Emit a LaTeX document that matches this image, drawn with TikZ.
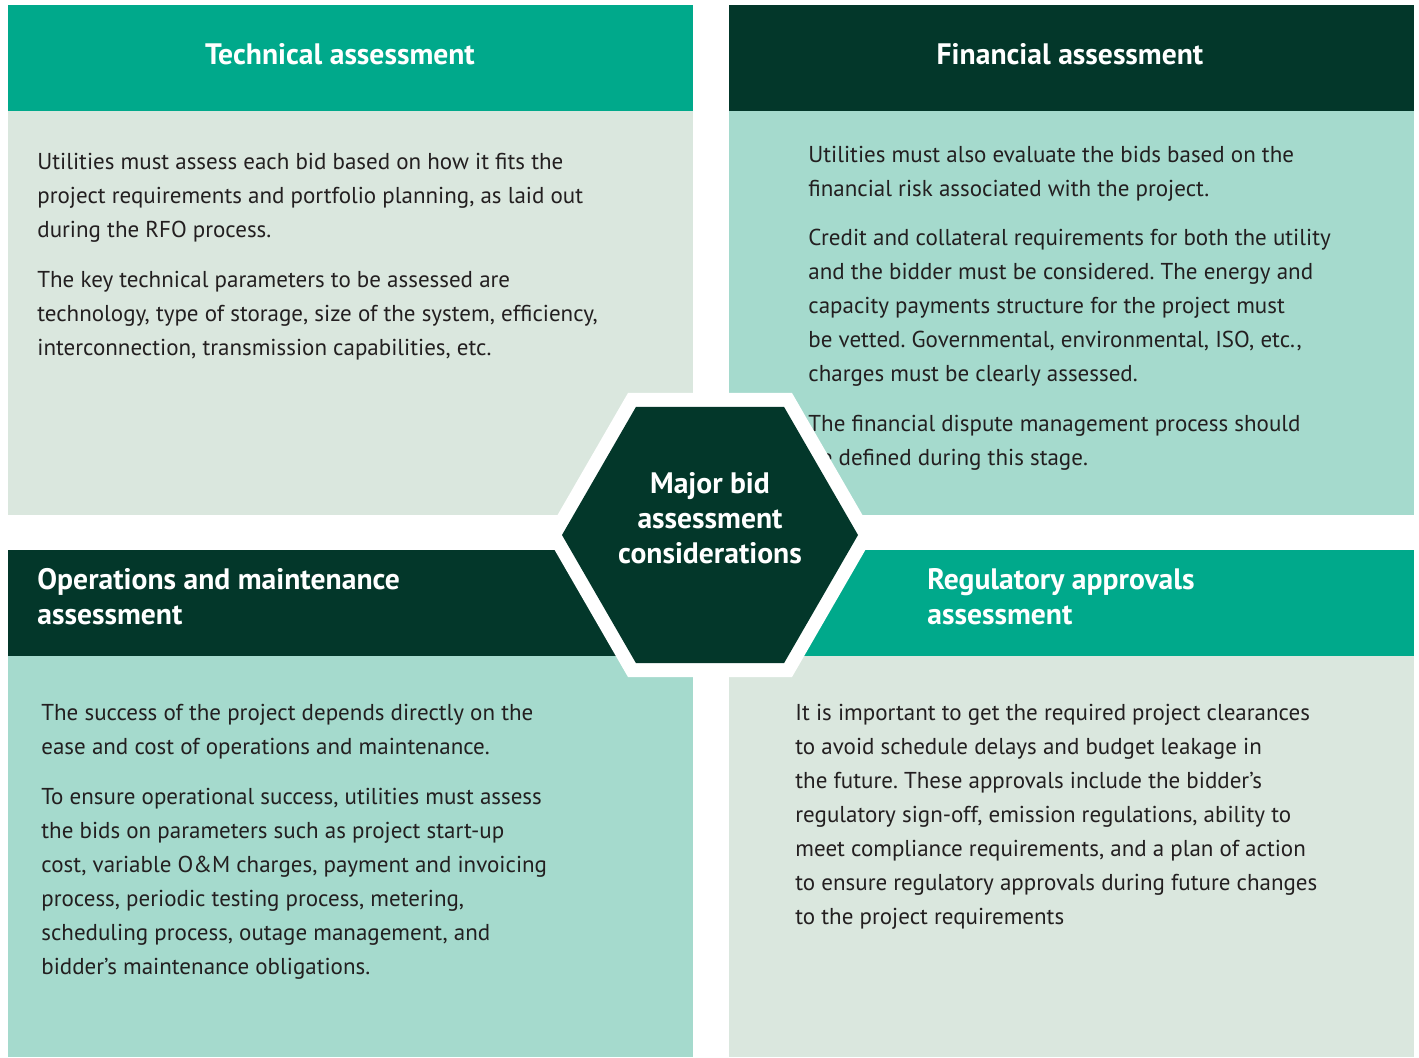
\documentclass[tikz,border=0pt]{standalone}
\usepackage{fontspec}
\setmainfont{PT Sans}
\frenchspacing
\usetikzlibrary{shapes.geometric}

\definecolor{bidteal}{HTML}{00A98B}
\definecolor{biddark}{HTML}{03372A}
\definecolor{bidmint}{HTML}{A5DACD}
\definecolor{bidgrey}{HTML}{DAE7DE}
\definecolor{bidtext}{HTML}{231F20}

\begin{document}
\begin{tikzpicture}[x=0.5pt,y=-0.5pt,
        head/.style={text=white,inner sep=0pt,font=\fontsize{14.8}{17.5}\selectfont\bfseries},
        para/.style={text=bidtext,inner sep=0pt,align=left,anchor=base west,
            font=\fontsize{11.5}{17}\selectfont},
        hexa/.style={regular polygon,regular polygon sides=6,inner sep=0pt,outer sep=0pt}]

    \useasboundingbox (0,0) rectangle (1419,1057);

    % four panels, header strip and body
    \fill[bidteal] (8,5) rectangle (693,111);
    \fill[bidgrey] (8,111) rectangle (693,515);
    \fill[biddark] (729,5) rectangle (1414,111);
    \fill[bidmint] (729,111) rectangle (1414,515);
    \fill[biddark] (8,550) rectangle (693,656);
    \fill[bidmint] (8,656) rectangle (693,1057);
    \fill[bidteal] (729,550) rectangle (1414,656);
    \fill[bidgrey] (729,656) rectangle (1414,1057);

    \node[head] (techhead) at (340,54) {Technical assessment};
    \node[head] (finhead) at (1070,54) {Financial assessment};
    \node[head,align=left,anchor=west] (omhead) at (37,597) {Operations and maintenance\\assessment};
    \node[head,align=left,anchor=west] (reghead) at (927,597) {Regulatory approvals\\assessment};

    % paragraphs sit on the baseline of their last line
    % technical
    \node[para] (tech1) at (37,237) {Utilities must assess each bid based on how it fits the\\
        project requirements and portfolio planning, as laid out\\
        during the RFO process.};
    \node[para] (tech2) at (37,355) {The key technical parameters to be assessed are\\
        technology, type of storage, size of the system, efficiency,\\
        interconnection, transmission capabilities, etc.};

    % financial
    \node[para] (fin1) at (808,196) {Utilities must also evaluate the bids based on the\\
        financial risk associated with the project.};
    \node[para] (fin2) at (808,381) {Credit and collateral requirements for both the utility\\
        and the bidder must be considered. The energy and\\
        capacity payments structure for the project must\\
        be vetted. Governmental, environmental, ISO, etc.,\\
        charges must be clearly assessed.};
    \node[para] (fin3) at (808,465) {The financial dispute management process should\\
        be defined during this stage.};

    % operations and maintenance
    \node[para] (om1) at (41,754) {The success of the project depends directly on the\\
        ease and cost of operations and maintenance.};
    \node[para] (om2) at (41,974) {To ensure operational success, utilities must assess\\
        the bids on parameters such as project start-up\\
        cost, variable O\&M charges, payment and invoicing\\
        process, periodic testing process, metering,\\
        scheduling process, outage management, and\\
        bidder's maintenance obligations.};

    % regulatory
    \node[para] (reg1) at (795,924) {It is important to get the required project clearances\\
        to avoid schedule delays and budget leakage in\\
        the future. These approvals include the bidder's\\
        regulatory sign-off, emission regulations, ability to\\
        meet compliance requirements, and a plan of action\\
        to ensure regulatory approvals during future changes\\
        to the project requirements};

    % centre hexagon with white rim
    \node[hexa,fill=white,minimum size=164pt] (hexrim) at (710,535) {};
    \node[hexa,fill=biddark,minimum size=148pt] (hexcore) at (710,535) {};
    \node[head,align=center] (hextext) at (710,518) {Major bid\\assessment\\considerations};
\end{tikzpicture}
\end{document}
